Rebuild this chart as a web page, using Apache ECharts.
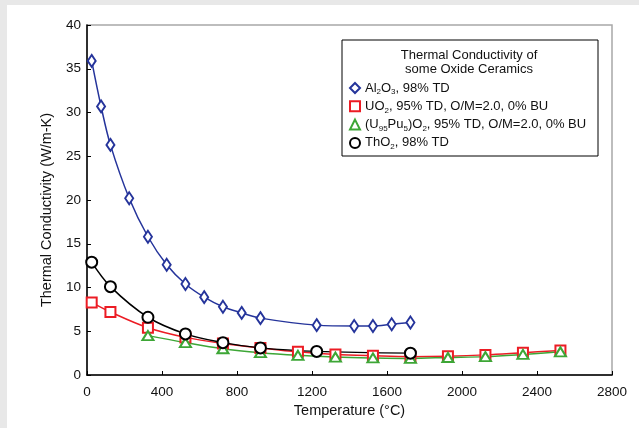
<!DOCTYPE html>
<html>
<head>
<meta charset="utf-8">
<script src="https://cdn.jsdelivr.net/npm/echarts@6/dist/echarts.min.js"></script>
<style>
  html, body { margin: 0; padding: 0; background: #e8e8e8; }
  #chart { position: absolute; left: 7px; top: 5px; width: 632px; height: 423px; background: #fff; }
</style>
</head>
<body>
<div id="chart"></div>
<script>
// temperatures (°C) and conductivities (W/m-K)
const al2o3Temp = [25, 75, 125, 225, 325, 425, 525, 625, 725, 825, 925, 1225, 1425, 1525, 1625, 1725]
const al2o3K = [35.9, 30.7, 26.3, 20.2, 15.8, 12.6, 10.4, 8.9, 7.8, 7.1, 6.5, 5.7, 5.6, 5.6, 5.8, 6.0]

const uo2Temp = [25, 125, 325, 525, 725, 925, 1125, 1325, 1525, 1725, 1925, 2125, 2325, 2525]
const uo2K = [8.3, 7.2, 5.4, 4.3, 3.6, 3.1, 2.65, 2.35, 2.2, 2.1, 2.15, 2.3, 2.55, 2.8]

const moxTemp = [325, 525, 725, 925, 1125, 1325, 1525, 1725, 1925, 2125, 2325, 2525]
const moxK = [4.5, 3.7, 3.0, 2.55, 2.25, 2.05, 1.95, 1.9, 2.0, 2.1, 2.35, 2.65]

const tho2Temp = [25, 125, 325, 525, 725, 925, 1225, 1725]
const tho2K = [12.9, 10.1, 6.6, 4.7, 3.7, 3.1, 2.7, 2.5]

const xTicks = [0, 400, 800, 1200, 1600, 2000, 2400, 2800]
const yTicks = [0, 5, 10, 15, 20, 25, 30, 35, 40]

const names = ['Al2O3', 'UO2', 'MOX', 'ThO2']
const labels = {
  Al2O3: '{n|Al}{s|2}{n|O}{s|3}{n|, 98% TD}',
  UO2: '{n|UO}{s|2}{n|, 95% TD, O/M=2.0, 0% BU}',
  MOX: '{n|(U}{s|95}{n|Pu}{s|5}{n|)O}{s|2}{n|, 95% TD, O/M=2.0, 0% BU}',
  ThO2: '{n|ThO}{s|2}{n|, 98% TD}'
}

const font = '"Liberation Sans", Arial, sans-serif'
const pairs = (xs, ys) => xs.map((x, i) => [x, ys[i]])

function makeSeries(name, xs, ys, color, symbol, size) {
  return {
    name,
    type: 'line',
    data: pairs(xs, ys),
    smooth: 0.35,
    symbol,
    symbolSize: size,
    showAllSymbol: true,
    lineStyle: { color, width: 1.5 },
    itemStyle: { color, borderColor: color, borderWidth: 1.5 }
  }
}

const chart = echarts.init(document.getElementById('chart'))
chart.setOption({
  animation: false,
  backgroundColor: '#fff',
  grid: {
    left: 80, right: 27, top: 20, bottom: 53,
    show: true, borderColor: '#a8a8a8', borderWidth: 1.5, backgroundColor: 'transparent'
  },
  xAxis: {
    type: 'value',
    min: 0, max: 2800, interval: 400,
    name: 'Temperature (°C)',
    nameLocation: 'middle',
    nameGap: 28,
    nameTextStyle: { fontFamily: font, fontSize: 14.5, color: '#111' },
    axisLine: { lineStyle: { color: '#000', width: 1.5 } },
    axisTick: { inside: true, length: 4, lineStyle: { color: '#000' } },
    axisLabel: { fontFamily: font, fontSize: 13.5, color: '#111', margin: 10,
      formatter: v => xTicks.includes(v) ? String(v) : '' },
    splitLine: { show: false }
  },
  yAxis: {
    type: 'value',
    min: 0, max: 40, interval: 5,
    name: 'Thermal Conductivity (W/m-K)',
    nameLocation: 'middle',
    nameGap: 33,
    nameTextStyle: { fontFamily: font, fontSize: 14.5, color: '#111', padding: [0, 20, 0, 0] },
    axisLine: { show: true, lineStyle: { color: '#000', width: 1.5 } },
    axisTick: { show: true, inside: true, length: 4, lineStyle: { color: '#000' } },
    axisLabel: { fontFamily: font, fontSize: 13.5, color: '#111', margin: 6,
      formatter: v => yTicks.includes(v) ? String(v) : '' },
    splitLine: { show: false }
  },
  legend: {
    orient: 'vertical',
    left: 342, top: 75,
    padding: 0,
    itemWidth: 10, itemHeight: 10,
    itemGap: 2.3,
    data: [
      { name: 'Al2O3', icon: 'emptyDiamond' },
      { name: 'UO2', icon: 'emptyRect' },
      { name: 'MOX', icon: 'emptyTriangle' },
      { name: 'ThO2', icon: 'emptyCircle' }
    ],
    formatter: n => labels[n],
    textStyle: {
      fontFamily: font, fontSize: 13, color: '#111', lineHeight: 16,
      rich: {
        n: { fontFamily: font, fontSize: 13, color: '#111', lineHeight: 16 },
        s: { fontFamily: font, fontSize: 8, color: '#111', lineHeight: 16, verticalAlign: 'bottom' }
      }
    }
  },
  graphic: [
    { type: 'rect', shape: { x: 335, y: 35, width: 256, height: 116 },
      style: { fill: '#fff', stroke: '#000', lineWidth: 1 }, z: -1 },
    { type: 'text', x: 462, y: 43.5,
      style: { text: 'Thermal Conductivity of\nsome Oxide Ceramics', align: 'center', verticalAlign: 'top',
        font: '13px "Liberation Sans", Arial, sans-serif', lineHeight: 14, fill: '#111' } }
  ],
  series: [
    makeSeries(names[0], al2o3Temp, al2o3K, '#25349b', 'emptyDiamond', [8, 12]),
    makeSeries(names[1], uo2Temp, uo2K, '#ec1c24', 'emptyRect', 10),
    makeSeries(names[2], moxTemp, moxK, '#3da636', 'emptyTriangle', [11, 9]),
    makeSeries(names[3], tho2Temp, tho2K, '#000000', 'emptyCircle', 11)
  ]
})
</script>
</body>
</html>
